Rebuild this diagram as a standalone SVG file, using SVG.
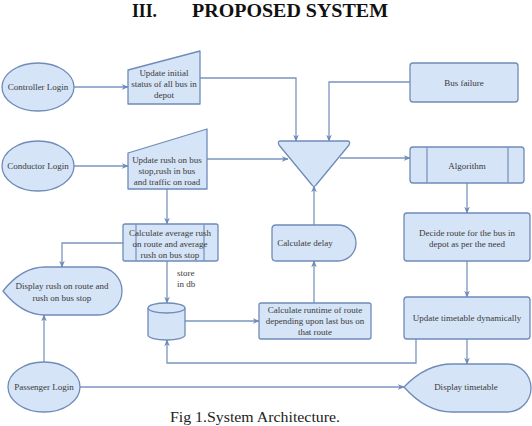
<svg xmlns="http://www.w3.org/2000/svg" width="532" height="426" viewBox="0 0 532 426">
<defs>
<marker id="ah" viewBox="0 0 10 10" refX="9" refY="5" markerWidth="7" markerHeight="7" orient="auto" markerUnits="userSpaceOnUse">
<path d="M0,1 L10,5 L0,9 L3,5 Z" fill="#6f8bb8"/>
</marker>
<style>
.n{fill:#d6e4f7;stroke:#6f8bb8;stroke-width:1.3;stroke-linejoin:round}
.c{fill:none;stroke:#7a95c0;stroke-width:1.3}
.t{font-family:"Liberation Serif","Times New Roman",serif;font-size:9px;fill:#3a3a3a;text-anchor:middle}
.ttl{font-family:"Liberation Serif","Times New Roman",serif;font-weight:bold;font-size:18px;fill:#111}
.cap{font-family:"Liberation Serif","Times New Roman",serif;font-size:14px;fill:#222}
</style>
</defs>
<rect width="532" height="426" fill="#fff"/>
<text class="ttl" x="132" y="17" textLength="25" lengthAdjust="spacingAndGlyphs">III.</text>
<text class="ttl" x="192" y="17" textLength="196" lengthAdjust="spacingAndGlyphs">PROPOSED SYSTEM</text>

<g id="connectors">
<path class="c" d="M74,87 L128,87" marker-end="url(#ah)"/>
<path class="c" d="M74,166 L128,166" marker-end="url(#ah)"/>
<path class="c" d="M200,78 L296,78 L296,141" marker-end="url(#ah)"/>
<path class="c" d="M410,82 L329,82 L329,141" marker-end="url(#ah)"/>
<path class="c" d="M207,159 L288,159" marker-end="url(#ah)"/>
<path class="c" d="M340,158 L410,158" marker-end="url(#ah)"/>
<path class="c" d="M467,183 L467,213" marker-end="url(#ah)"/>
<path class="c" d="M467,261 L467,297" marker-end="url(#ah)"/>
<path class="c" d="M467,339 L467,364" marker-end="url(#ah)"/>
<path class="c" d="M416,339 L416,363 L167,363 L167,340" marker-end="url(#ah)"/>
<path class="c" d="M80,387 L404,387" marker-end="url(#ah)"/>
<path class="c" d="M44,363 L44,315" marker-end="url(#ah)"/>
<path class="c" d="M167,189 L167,224" marker-end="url(#ah)"/>
<path class="c" d="M123,243 L62,243 L62,267" marker-end="url(#ah)"/>
<path class="c" d="M167,261 L167,303" marker-end="url(#ah)"/>
<path class="c" d="M185,321 L259,321" marker-end="url(#ah)"/>
<path class="c" d="M314,303 L314,261" marker-end="url(#ah)"/>
<path class="c" d="M314,225 L314,186" marker-end="url(#ah)"/>
<text class="t" x="177" y="276" style="text-anchor:start">store</text>
<text class="t" x="177" y="287" style="text-anchor:start">in db</text>
</g>

<g id="controller-login">
<ellipse class="n" cx="38" cy="87" rx="36" ry="24"/>
<text class="t" x="38" y="90">Controller Login</text>
</g>

<g id="update-initial">
<path class="n" d="M128,70 L200,51 L200,104 L128,104 Z"/>
<text class="t" x="164" y="76">Update initial</text>
<text class="t" x="164" y="87">status of all bus in</text>
<text class="t" x="164" y="98">depot</text>
</g>

<g id="conductor-login">
<ellipse class="n" cx="38" cy="166" rx="36" ry="25"/>
<text class="t" x="38" y="169">Conductor Login</text>
</g>

<g id="update-rush">
<path class="n" d="M128,153 L207,129 L207,189 L128,189 Z"/>
<text class="t" x="167" y="163">Update rush on bus</text>
<text class="t" x="167" y="174">stop,rush in bus</text>
<text class="t" x="167" y="185">and traffic on road</text>
</g>

<g id="bus-failure">
<rect class="n" x="410" y="63" width="108" height="39" rx="3"/>
<text class="t" x="464" y="86">Bus failure</text>
</g>

<g id="merge">
<path class="n" d="M281,141 L347,141 Q351,141 349,145 L316,185 Q314,188 312,185 L279,145 Q277,141 281,141 Z"/>
</g>

<g id="algorithm">
<rect class="n" x="410" y="147" width="114" height="36" rx="3"/>
<line class="c" x1="427" y1="147" x2="427" y2="183"/>
<line class="c" x1="508" y1="147" x2="508" y2="183"/>
<text class="t" x="467" y="169">Algorithm</text>
</g>

<g id="decide-route">
<rect class="n" x="404" y="213" width="126" height="48" rx="3"/>
<text class="t" x="467" y="236">Decide route for the bus in</text>
<text class="t" x="467" y="247">depot as per the need</text>
</g>

<g id="update-timetable">
<rect class="n" x="404" y="297" width="126" height="42" rx="3"/>
<text class="t" x="467" y="321">Update timetable dynamically</text>
</g>

<g id="display-timetable">
<path class="n" d="M404,387 Q426,364 452,364 L507,364 A24,24 0 0 1 507,412 L452,412 Q426,412 404,387 Z"/>
<text class="t" x="466" y="390">Display timetable</text>
</g>

<g id="calc-average">
<rect class="n" x="123" y="224" width="95" height="37" rx="2"/>
<line class="c" x1="136" y1="224" x2="136" y2="261"/>
<line class="c" x1="204" y1="224" x2="204" y2="261"/>
<text class="t" x="170" y="236">Calculate average rush</text>
<text class="t" x="170" y="247">on route and average</text>
<text class="t" x="170" y="258">rush on bus stop</text>
</g>

<g id="display-rush">
<path class="n" d="M3,291 Q22,267 45,267 L98,267 A24,24 0 0 1 98,315 L45,315 Q22,315 3,291 Z"/>
<text class="t" x="62" y="289">Display rush on route and</text>
<text class="t" x="62" y="301">rush on bus stop</text>
</g>

<g id="database">
<path class="n" d="M148,308 A18.5,5 0 0 1 185,308 L185,335 A18.5,5 0 0 1 148,335 Z"/>
<path class="c" d="M148,308 A18.5,5 0 0 0 185,308" style="stroke:#6f8bb8"/>
</g>

<g id="calc-runtime">
<rect class="n" x="259" y="303" width="112" height="36" rx="2"/>
<text class="t" x="315" y="313">Calculate runtime of route</text>
<text class="t" x="315" y="324">depending upon last bus on</text>
<text class="t" x="315" y="335">that route</text>
</g>

<g id="calc-delay">
<path class="n" d="M276,225 L338,225 A18,18 0 0 1 338,261 L276,261 Q272,261 272,257 L272,229 Q272,225 276,225 Z"/>
<text class="t" x="305" y="246">Calculate delay</text>
</g>

<g id="passenger-login">
<ellipse class="n" cx="44" cy="387" rx="36" ry="25"/>
<text class="t" x="44" y="390">Passenger Login</text>
</g>

<text class="cap" x="170" y="422" textLength="170" lengthAdjust="spacingAndGlyphs">Fig 1.System Architecture.</text>
</svg>
